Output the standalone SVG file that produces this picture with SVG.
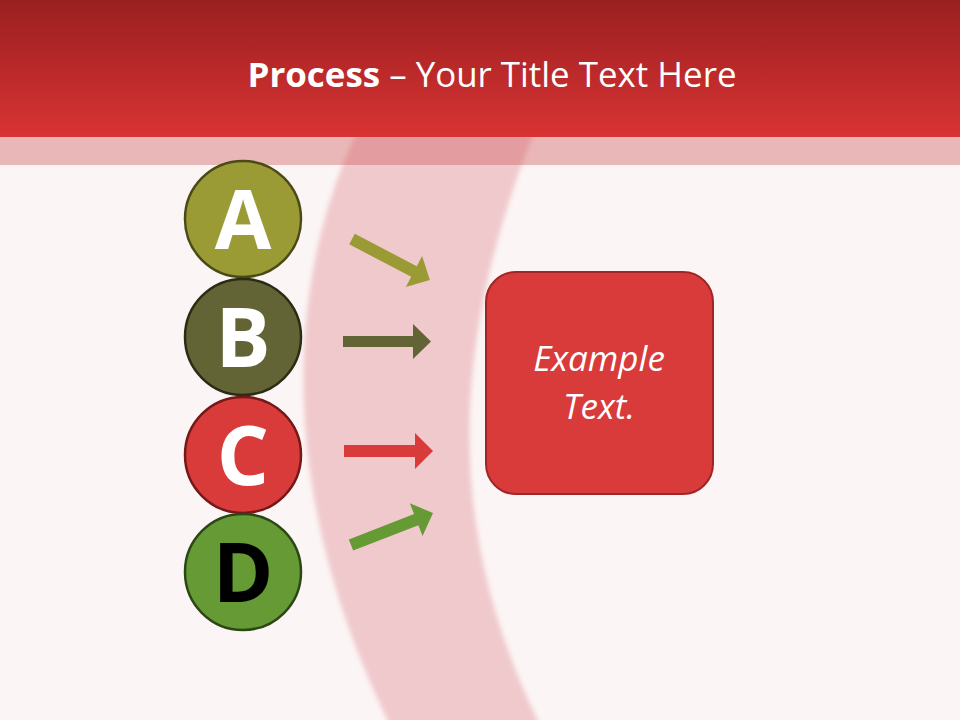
<svg xmlns="http://www.w3.org/2000/svg" width="960" height="720" viewBox="0 0 960 720">
<style>
.title{font-family:"Open Sans","Noto Sans",sans-serif;fill:#ffffff;font-size:34px}
.letter{font-family:"Open Sans","Noto Sans",sans-serif;font-weight:bold;font-size:82px;text-anchor:middle}
.circ{stroke-width:2.5}
.boxtext{font-family:"Open Sans","Noto Sans",sans-serif;font-style:italic;font-size:35px;fill:#ffffff;text-anchor:middle}
</style>
<defs>
<linearGradient id="hdr" x1="0" y1="0" x2="0" y2="1">
<stop offset="0" stop-color="#9a1f20"/>
<stop offset="1" stop-color="#d93333"/>
</linearGradient>
<filter id="soft" x="-10%" y="-10%" width="120%" height="120%">
<feGaussianBlur stdDeviation="2.5"/>
</filter>
</defs>
<rect x="0" y="0" width="960" height="720" fill="#fcf5f5"/>
<path d="M 358 130 C 295 260, 265 470, 390 725 L 540 725 C 460 560, 435 380, 535 130 Z" fill="#f0c9cc" filter="url(#soft)"/>
<rect x="0" y="137" width="960" height="28" fill="rgb(207,90,92)" fill-opacity="0.4"/>
<rect x="0" y="0" width="960" height="137" fill="url(#hdr)"/>
<text class="title" x="492" y="87" text-anchor="middle" textLength="489" lengthAdjust="spacingAndGlyphs"><tspan font-weight="bold">Process</tspan> – Your Title Text Here</text>
<g id="connectors">
<polygon points="0,-6 70,-6 70,-17.5 88,0 70,17.5 70,6 0,6" fill="#9b9b35" transform="translate(352,239) rotate(27.7)"/>
<polygon points="343,336 413,336 413,324 431,341.5 413,359 413,347 343,347" fill="#636436"/>
<polygon points="344,445 415,445 415,433 433,451 415,469 415,457 344,457" fill="#d93a3a"/>
<polygon points="0,-6 70,-6 70,-17.5 88,0 70,17.5 70,6 0,6" fill="#659a34" transform="translate(351,545) rotate(-21.3)"/>
</g>
<g id="nodeA">
<circle class="circ" cx="243" cy="219" r="58" fill="#9b9b35" stroke="#4a4a18"/>
<text class="letter" x="243" y="249" fill="#ffffff">A</text>
</g>
<g id="nodeB">
<circle class="circ" cx="243" cy="337" r="58" fill="#636436" stroke="#2c2c14"/>
<text class="letter" x="243" y="367" fill="#ffffff">B</text>
</g>
<g id="nodeC">
<circle class="circ" cx="243" cy="455" r="58" fill="#d93a3a" stroke="#741818"/>
<text class="letter" x="243" y="485" fill="#ffffff">C</text>
</g>
<g id="nodeD">
<circle class="circ" cx="243" cy="572" r="58" fill="#659a34" stroke="#2c4716"/>
<text class="letter" x="243" y="602" fill="#000000">D</text>
</g>
<g id="box">
<rect x="486" y="272" width="227" height="222" rx="30" ry="30" fill="#d93a3a" stroke="#a02626" stroke-width="2"/>
<text class="boxtext" x="599" y="371">Example</text>
<text class="boxtext" x="599" y="419">Text.</text>
</g>
</svg>
